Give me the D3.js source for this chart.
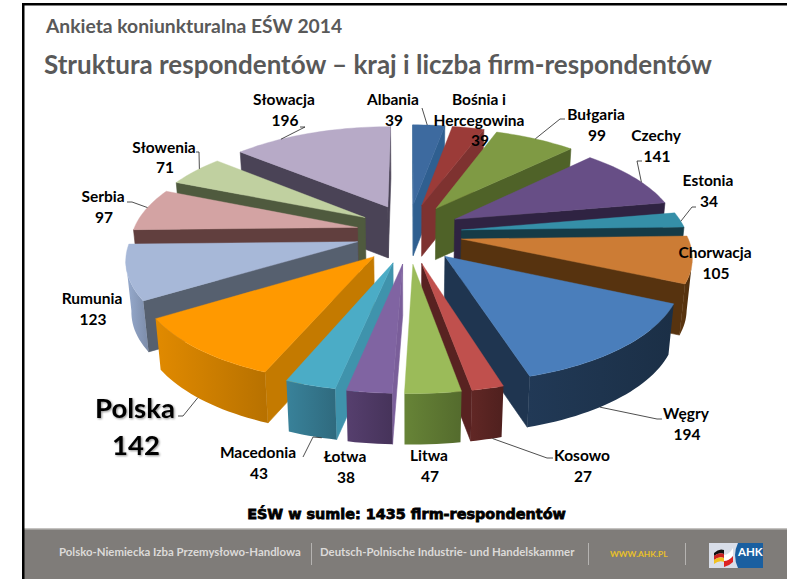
<!DOCTYPE html>
<html><head><meta charset="utf-8">
<script src="https://cdn.jsdelivr.net/npm/d3@7"></script>
<style>html,body{margin:0;padding:0;background:#fff}svg{display:block}text{font-family:Lato,"Open Sans",sans-serif}</style>
</head><body><svg id="c" width="787" height="579"></svg>
<script>
const categories=["Albania","Bośnia i Hercegowina","Bułgaria","Czechy","Estonia","Chorwacja","Węgry","Kosowo","Litwa","Łotwa","Macedonia","Polska","Rumunia","Serbia","Słowenia","Słowacja"];
const values=[39,39,99,141,34,105,194,27,47,38,43,142,123,97,71,196];
const topColors=["#3d6a9f","#9b3b38","#7f9a44","#674e86","#358fa8","#cc7c35","#4a7ebb","#c0504d","#9bbb59","#8064a2","#4bacc6","#ff9900","#a7b8d8","#d3a3a3","#c0d0a0","#b7aac7"];
const cutColors=["#2f5f90","#7e3230","#4f6228","#2f2342","#153b47","#57330f","#1f3550","#582221","#4f6128","#7a5e9a","#3f93ac","#c47a00","#56606f","#613f3e","#4f5a3e","#4a4356"];
const rimColors=["#2f5f90","#7e3230","#4f6228","#2f2342","#153b47","#57330f","#1f3550","#5a2422","#5f7a33","#503a66","#35788f","#d08000","#8d9fc0","#613f3e","#4f5a3e","#4a4356"];
const labelLines=[["Albania","39"],["Bośnia i","Hercegowina","39"],["Bułgaria","99"],["Czechy","141"],["Estonia","34"],["Chorwacja","105"],["Węgry","194"],["Kosowo","27"],["Litwa","47"],["Łotwa","38"],["Macedonia","43"],["Polska","142"],["Rumunia","123"],["Serbia","97"],["Słowenia","71"],["Słowacja","196"]];
const footerLeft="Polsko-Niemiecka Izba Przemysłowo-Handlowa";
const footerRight="Deutsch-Polnische Industrie- und Handelskammer";

// label layout: centre x, first baseline, line step
const labelPos=[[393,105,21],[479,105,20.5],[596,120,20.5],[656,141,21],[708,186,20.5],[715,258,21],[686,419,21],[582,461,21],[429,461,21],[345,462,21],[258,458,21],[135,418,37],[92,304,21],[103,202,21],[164,153,20],[284,105,21]];
// leaders: fraction along rim, rim level (0 top,1 bottom), elbow, end
const leaders=[[.45,0,[422,108]],null,[.5,0,[560,119],[565,119]],[.6,0,[637,161],[642,161]],[.6,0,[692,207],[696,207]],null,[.62,1,[657,419],[662,419]],[.3,1,[547,458],[553,458]],null,null,[.3,1,[313,437],[303,457]],[.55,1,[183,416],[178,416]],null,[.55,0,[132,202],[127,202]],[.6,0,[199,152],[196,152]],[.3,0,[305,127],[300,127]]];

const svg=d3.select("#c");
const W=787,H=579;
const cx=409,cy=233,Rx=225,Ky=99.5,persp=.15,ex=.235,ey=.3,depth=51,shrink=.02;
const xS=d3.scaleLinear().domain([-1,1]).range([cx-Rx,cx+Rx]);
const yS=d3.scaleLinear().domain([-1,1]).range([cy-Ky,cy+Ky]);
const pie=d3.pie().value(d=>d).sort(null)(values);
function pt(sl,r,a,z){
  const mid=(sl.startAngle+sl.endAngle)/2;
  const X=ex*Math.sin(mid)+r*Math.sin(a), Y=-ey*Math.cos(mid)-r*Math.cos(a);
  const s=1/(1-persp*Y);
  return [xS(X*s*(1-shrink*z)), yS(Y*s)+depth*z];
}
const line=d3.line();
const slices=pie.map((sl,i)=>({sl,i,mid:(sl.startAngle+sl.endAngle)/2}));
const order=slices.slice().sort((a,b)=>(-Math.cos(a.mid))-(-Math.cos(b.mid)));
svg.append("rect").attr("width",W).attr("height",H).attr("fill","#fff");
const defs=svg.append("defs");
const chart=svg.append("g");
function quad(g,p,q,color){
  g.append("path").attr("d",line([pt(...p,0),pt(...q,0),pt(...q,1),pt(...p,1)])+"Z").attr("fill",color).attr("stroke",color).attr("stroke-width",.6);
}
order.forEach(({sl,i})=>{
  const g=chart.append("g");
  const n=Math.max(6,Math.ceil((sl.endAngle-sl.startAngle)/.03));
  const ang=d3.scaleLinear().domain([0,n]).range([sl.startAngle,sl.endAngle]);
  const rim=d3.range(n+1).map(ang);
  const apexP=[sl,0,0], st=[sl,1,rim[0]], en=[sl,1,rim[n]];
  if(pt(...st,0)[0]<pt(...apexP,0)[0]) quad(g,apexP,st,cutColors[i]);
  if(pt(...apexP,0)[0]<pt(...en,0)[0]) quad(g,en,apexP,cutColors[i]);
  // outer wall: the part of the rim that runs leftward on screen faces the viewer
  const front=rim.filter((a,k)=>{
    const prev=k>0&&pt(sl,1,a,0)[0]<pt(sl,1,rim[k-1],0)[0];
    const next=k<n&&pt(sl,1,rim[k+1],0)[0]<pt(sl,1,a,0)[0];
    return prev||next;
  });
  if(front.length>1){
    const topEdge=front.map(a=>pt(sl,1,a,0)), botEdge=front.map(a=>pt(sl,1,a,1)).reverse();
    const xs=d3.extent(topEdge.concat(botEdge),d=>d[0]);
    const c=d3.rgb(rimColors[i]);
    const gid="rim"+i;
    const gr=defs.append("linearGradient").attr("id",gid).attr("gradientUnits","userSpaceOnUse")
      .attr("x1",xs[0]).attr("x2",xs[1]).attr("y1",0).attr("y2",0);
    gr.append("stop").attr("offset",0).attr("stop-color",d3.rgb(c.r*1.08,c.g*1.08,c.b*1.08).formatHex());
    gr.append("stop").attr("offset",1).attr("stop-color",d3.rgb(c.r*.88,c.g*.88,c.b*.88).formatHex());
    g.append("path").attr("d",line(topEdge.concat(botEdge))+"Z").attr("fill",`url(#${gid})`);
  }
  g.append("path").attr("d",line([pt(sl,0,0,0),...rim.map(a=>pt(sl,1,a,0))])+"Z").attr("fill",topColors[i]).attr("stroke",topColors[i]).attr("stroke-width",.4);
});
// leaders
leaders.forEach((l,i)=>{
  if(!l)return;
  const sl=pie[i];
  const a=sl.startAngle+l[0]*(sl.endAngle-sl.startAngle);
  const pts=[pt(sl,1,a,l[1]),...l.slice(2)];
  svg.append("path").attr("d",line(pts)).attr("fill","none").attr("stroke","#222").attr("stroke-width",.8);
});
// labels
labelLines.forEach((ls,i)=>{
  const [x,y,step]=labelPos[i];
  const big=categories[i]==="Polska";
  const t=svg.append("text").attr("text-anchor","middle").attr("font-weight",700)
    .attr("font-size",big?27.5:15.5).attr("fill","#000");
  if(big) t.style("filter","drop-shadow(1.5px 1.5px 1px rgba(0,0,0,.45))");
  ls.forEach((s,k)=>t.append("tspan").attr("x",x+(k===ls.length-1?1:0)).attr("y",y+k*step).text(s));
});
// headings
svg.append("text").attr("x",46).attr("y",33).attr("font-size",19.3).attr("font-weight",700).attr("fill","#595959").text("Ankieta koniunkturalna EŚW 2014");
svg.append("text").attr("x",44).attr("y",74).attr("font-size",26).attr("font-weight",700).attr("fill","#595959").text("Struktura respondentów – kraj i liczba firm-respondentów");
svg.append("text").attr("x",406.5).attr("y",519).attr("text-anchor","middle").attr("font-size",14.4).attr("font-weight",700).attr("fill","#000").attr("stroke","#000").attr("stroke-width",.8).style("font-family","'DejaVu Sans'").text("EŚW w sumie: 1435 firm-respondentów");
// footer
svg.append("rect").attr("x",24).attr("y",529).attr("width",W-24).attr("height",50).attr("fill","#7f7c79");
svg.append("rect").attr("x",24).attr("y",528).attr("width",W-24).attr("height",1.5).attr("fill","#c4c2c0");
svg.append("text").attr("x",59).attr("y",556).attr("font-size",11.4).attr("font-weight",700).attr("fill","#dcdad8").text(footerLeft);
svg.append("text").attr("x",320).attr("y",556).attr("font-size",11.4).attr("font-weight",700).attr("fill","#dcdad8").text(footerRight);
[311,588,685].forEach(x=>svg.append("rect").attr("x",x).attr("y",543).attr("width",1).attr("height",22).attr("fill","#b5b3b1"));
svg.append("text").attr("x",610).attr("y",557).attr("font-size",8.4).attr("font-weight",700).attr("fill","#e8c02a").text("WWW.AHK.PL");
// logo
svg.append("rect").attr("x",709).attr("y",543).attr("width",28).attr("height",25).attr("fill","#d8dde8");
svg.append("rect").attr("x",735).attr("y",543).attr("width",28).attr("height",25).attr("fill","#1a5fa0");
svg.append("path").attr("d","M735 543h3q-6 12 0 25h-3z").attr("fill","#d8dde8");
svg.append("path").attr("d","M714 553q5-5 10-3v4q-5-2-10 2z").attr("fill","#111");
svg.append("path").attr("d","M714 556q5-4 10-2v4q-5-2-10 2z").attr("fill","#c22");
svg.append("path").attr("d","M714 560q5-4 10-2v4q-5-2-10 2z").attr("fill","#f0c020");
svg.append("path").attr("d","M724 555q5 0 9-7v8q-4 5-9 5z").attr("fill","#fff");
svg.append("path").attr("d","M724 561q5 0 9-5v6q-4 4-9 5z").attr("fill","#d22");
svg.append("text").attr("x",738).attr("y",556).attr("font-size",11.5).attr("font-weight",700).attr("fill","#fff").text("AHK");
// frame
svg.append("rect").attr("x",22).attr("y",3).attr("width",2.5).attr("height",H).attr("fill","#000");
svg.append("rect").attr("x",22).attr("y",3).attr("width",W-22).attr("height",2.5).attr("fill","#000");
</script></body></html>
